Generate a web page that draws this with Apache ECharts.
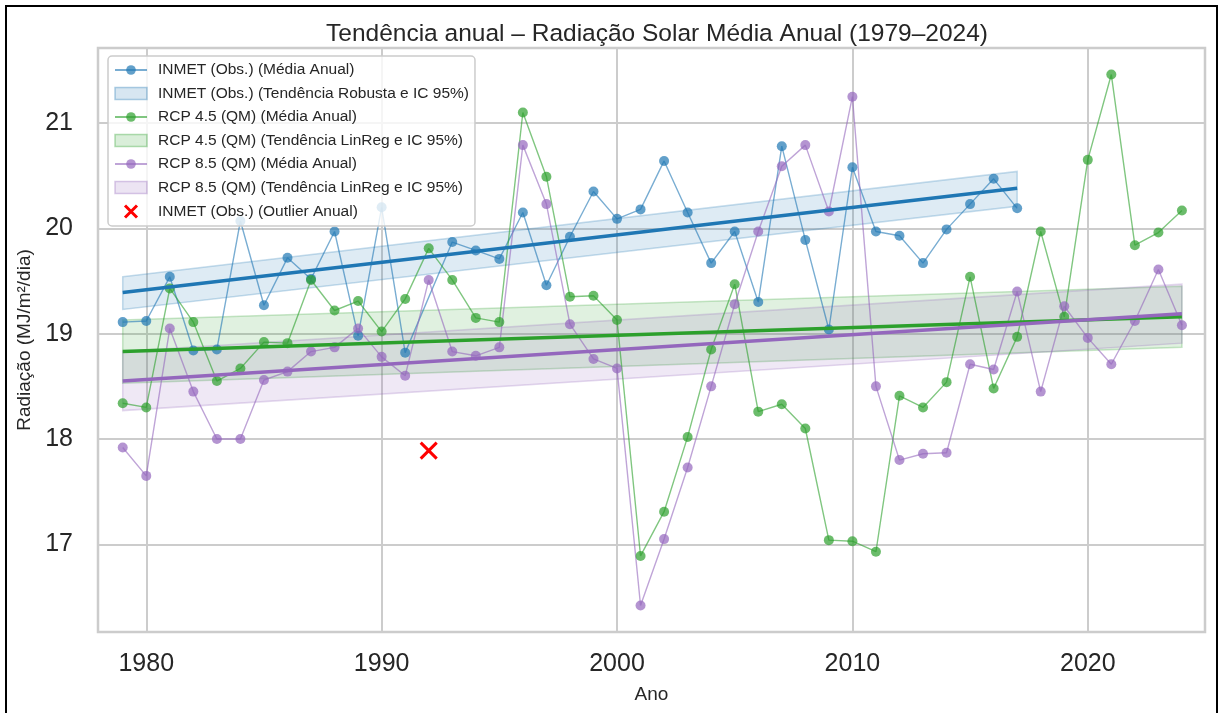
<!DOCTYPE html>
<html>
<head>
<meta charset="utf-8">
<script src="https://cdn.jsdelivr.net/npm/echarts@6/dist/echarts.min.js"></script>
<style>
  html, body { margin: 0; padding: 0; background: #fff; }
  #chart { width: 1219px; height: 713px; }
</style>
</head>
<body>
<div id="chart"></div>
<script>
// anos
var years = [1979, 1980, 1981, 1982, 1983, 1984, 1985, 1986, 1987, 1988,
             1989, 1990, 1991, 1992, 1993, 1994, 1995, 1996, 1997, 1998,
             1999, 2000, 2001, 2002, 2003, 2004, 2005, 2006, 2007, 2008,
             2009, 2010, 2011, 2012, 2013, 2014, 2015, 2016, 2017, 2018,
             2019, 2020, 2021, 2022, 2023, 2024];

// medias anuais (MJ/m2/dia)
var inmet = [19.11, 19.12, 19.54, 18.84, 18.85, 20.07, 19.27, 19.72, 19.52, 19.97,
             18.98, 20.20, 18.82, null, 19.87, 19.79, 19.71, 20.15, 19.46, 19.92,
             20.35, 20.09, 20.18, 20.64, 20.15, 19.67, 19.97, 19.30, 20.78, 19.89,
             19.04, 20.58, 19.97, 19.93, 19.67, 19.99, 20.23, 20.47, 20.19, null,
             null, null, null, null, null, null];
var rcp45 = [18.34, 18.30, 19.43, 19.11, 18.55, 18.67, 18.92, 18.91, 19.51, 19.22,
             19.31, 19.02, 19.33, 19.81, 19.51, 19.15, 19.11, 21.10, 20.49, 19.35,
             19.36, 19.13, 16.89, 17.31, 18.02, 18.85, 19.47, 18.26, 18.33, 18.10,
             17.04, 17.03, 16.93, 18.41, 18.30, 18.54, 19.54, 18.48, 18.97, 19.97,
             19.16, 20.65, 21.46, 19.84, 19.96, 20.17];
var rcp85 = [17.92, 17.65, 19.05, 18.45, 18.00, 18.00, 18.56, 18.64, 18.83, 18.87,
             19.05, 18.78, 18.60, 19.51, 18.83, 18.79, 18.87, 20.79, 20.23, 19.09,
             18.76, 18.67, 16.42, 17.05, 17.73, 18.50, 19.28, 19.97, 20.59, 20.79,
             20.16, 21.25, 18.50, 17.80, 17.86, 17.87, 18.71, 18.66, 19.40, 18.45,
             19.26, 18.96, 18.71, 19.12, 19.61, 19.08];

// tendencias (extremos) e IC 95%
var inmetTrendYears = [1979, 2017];
var inmetTrend = [19.39, 20.38];
var inmetLo = [19.23, 20.21];
var inmetHi = [19.54, 20.54];

var rcpTrendYears = [1979, 2024];
var rcp45Trend = [18.83, 19.16];
var rcp45Lo = [18.53, 18.87];
var rcp45Hi = [19.13, 19.45];
var rcp85Trend = [18.55, 19.19];
var rcp85Lo = [18.27, 18.91];
var rcp85Hi = [18.83, 19.47];

// outlier
var outlierYear = [1992];
var outlierVal = [17.89];

var xTicks = [1980, 1990, 2000, 2010, 2020];
var yTicks = [17, 18, 19, 20, 21];

var names = [
    'INMET (Obs.) (Média Anual)',
    'INMET (Obs.) (Tendência Robusta e IC 95%)',
    'RCP 4.5 (QM) (Média Anual)',
    'RCP 4.5 (QM) (Tendência LinReg e IC 95%)',
    'RCP 8.5 (QM) (Média Anual)',
    'RCP 8.5 (QM) (Tendência LinReg e IC 95%)',
    'INMET (Obs.) (Outlier Anual)'
];

function pairs(xs, ys) {
    var out = [];
    for (var i = 0; i < xs.length; i++) out.push([xs[i], ys[i]]);
    return out;
}

function bandSeries(name, xs, lo, hi, fill, edge) {
    var data = [];
    for (var i = 0; i < xs.length; i++) data.push([xs[i], lo[i], hi[i]]);
    return {
        name: name,
        type: 'custom',
        data: data,
        encode: { x: 0, y: [1, 2] },
        z: 1,
        clip: true,
        silent: true,
        renderItem: function (params, api) {
            if (params.dataIndex !== 0) return;
            var pts = [];
            for (var i = 0; i < data.length; i++) pts.push(api.coord([data[i][0], data[i][2]]));
            for (var j = data.length - 1; j >= 0; j--) pts.push(api.coord([data[j][0], data[j][1]]));
            return {
                type: 'polygon',
                shape: { points: pts },
                style: { fill: fill, stroke: edge, lineWidth: 1.5 }
            };
        }
    };
}

function annualSeries(name, vals, color, connect) {
    return {
        name: name,
        type: 'line',
        data: pairs(years, vals),
        connectNulls: connect,
        symbol: 'circle',
        symbolSize: 10,
        z: 3,
        lineStyle: { color: color, width: 1.4, opacity: 0.6 },
        itemStyle: { color: color, opacity: 0.7 },
        emphasis: { disabled: true }
    };
}

function trendSeries(name, xs, vals, color) {
    return {
        name: name,
        type: 'line',
        data: pairs(xs, vals),
        symbol: 'none',
        z: 4,
        lineStyle: { color: color, width: 3.5 },
        itemStyle: { color: color },
        emphasis: { disabled: true }
    };
}

var blue = '#1f77b4', green = '#2ca02c', purple = '#9467bd';
var xPath = 'path://M0,0L10,10M10,0L0,10';

var chart = echarts.init(document.getElementById('chart'));
var option = {
    animation: false,
    backgroundColor: '#fff',
    textStyle: { fontFamily: 'Liberation Sans, Arial, sans-serif' },
    graphic: [{
        type: 'rect',
        shape: { x: 6, y: 6, width: 1211, height: 740 },
        style: { fill: 'none', stroke: '#000', lineWidth: 2 },
        z: 100
    }],
    title: {
        text: 'Tendência anual – Radiação Solar Média Anual (1979–2024)',
        left: 321,
        top: 17,
        textStyle: { fontSize: 24.5, fontWeight: 'normal', color: '#262626' }
    },
    grid: {
        left: 98, right: 14, top: 48, bottom: 81,
        show: true, borderColor: '#cccccc', borderWidth: 2.5
    },
    legend: {
        orient: 'vertical',
        left: 108,
        top: 56,
        padding: [6, 6, 6, 6],
        itemWidth: 32,
        itemHeight: 12,
        itemGap: 7.5,
        backgroundColor: 'rgba(255,255,255,0.8)',
        borderColor: '#cccccc',
        borderWidth: 1.5,
        borderRadius: 4,
        textStyle: { fontSize: 15.5, lineHeight: 16, color: '#262626', padding: [0, 0, 0, 6] },
        data: [
            { name: names[0] },
            { name: names[1], icon: 'rect', itemStyle: { color: 'rgba(31,119,180,0.18)', borderColor: 'rgba(31,119,180,0.35)', borderWidth: 1.5 } },
            { name: names[2] },
            { name: names[3], icon: 'rect', itemStyle: { color: 'rgba(44,160,44,0.18)', borderColor: 'rgba(44,160,44,0.35)', borderWidth: 1.5 } },
            { name: names[4] },
            { name: names[5], icon: 'rect', itemStyle: { color: 'rgba(148,103,189,0.18)', borderColor: 'rgba(148,103,189,0.35)', borderWidth: 1.5 } },
            { name: names[6], icon: xPath, itemStyle: { color: 'none', borderColor: '#ff0000', borderWidth: 3 } }
        ]
    },
    xAxis: {
        type: 'value',
        min: 1977.95,
        max: 2024.98,
        name: 'Ano',
        nameLocation: 'middle',
        nameGap: 53,
        nameTextStyle: { fontSize: 19, color: '#262626' },
        axisLine: { show: false },
        axisTick: { show: false, customValues: xTicks },
        axisLabel: {
            customValues: xTicks, fontSize: 25, color: '#262626', margin: 20,
            formatter: function (v) { return String(v); }
        },
        splitLine: { show: true, lineStyle: { color: '#cccccc', width: 2 } }
    },
    yAxis: {
        type: 'value',
        min: 16.168,
        max: 21.712,
        name: 'Radiação (MJ/m²/dia)',
        nameLocation: 'middle',
        nameGap: 58,
        nameTextStyle: { fontSize: 19, color: '#262626' },
        axisLine: { show: false },
        axisTick: { show: false, customValues: yTicks },
        axisLabel: { customValues: yTicks, fontSize: 25, color: '#262626', margin: 25 },
        splitLine: { show: true, lineStyle: { color: '#cccccc', width: 2 } }
    },
    series: [
        bandSeries(names[1], inmetTrendYears, inmetLo, inmetHi, 'rgba(31,119,180,0.15)', 'rgba(31,119,180,0.25)'),
        bandSeries(names[3], rcpTrendYears, rcp45Lo, rcp45Hi, 'rgba(44,160,44,0.15)', 'rgba(44,160,44,0.25)'),
        bandSeries(names[5], rcpTrendYears, rcp85Lo, rcp85Hi, 'rgba(148,103,189,0.15)', 'rgba(148,103,189,0.25)'),
        annualSeries(names[0], inmet, blue, true),
        annualSeries(names[2], rcp45, green, false),
        annualSeries(names[4], rcp85, purple, false),
        trendSeries(names[1], inmetTrendYears, inmetTrend, blue),
        trendSeries(names[3], rcpTrendYears, rcp45Trend, green),
        trendSeries(names[5], rcpTrendYears, rcp85Trend, purple),
        {
            name: names[6],
            type: 'scatter',
            data: pairs(outlierYear, outlierVal),
            symbol: xPath,
            symbolSize: 16,
            z: 5,
            itemStyle: { color: 'none', borderColor: '#ff0000', borderWidth: 3, opacity: 1 }
        }
    ]
};
option && chart.setOption(option);
</script>
</body>
</html>
